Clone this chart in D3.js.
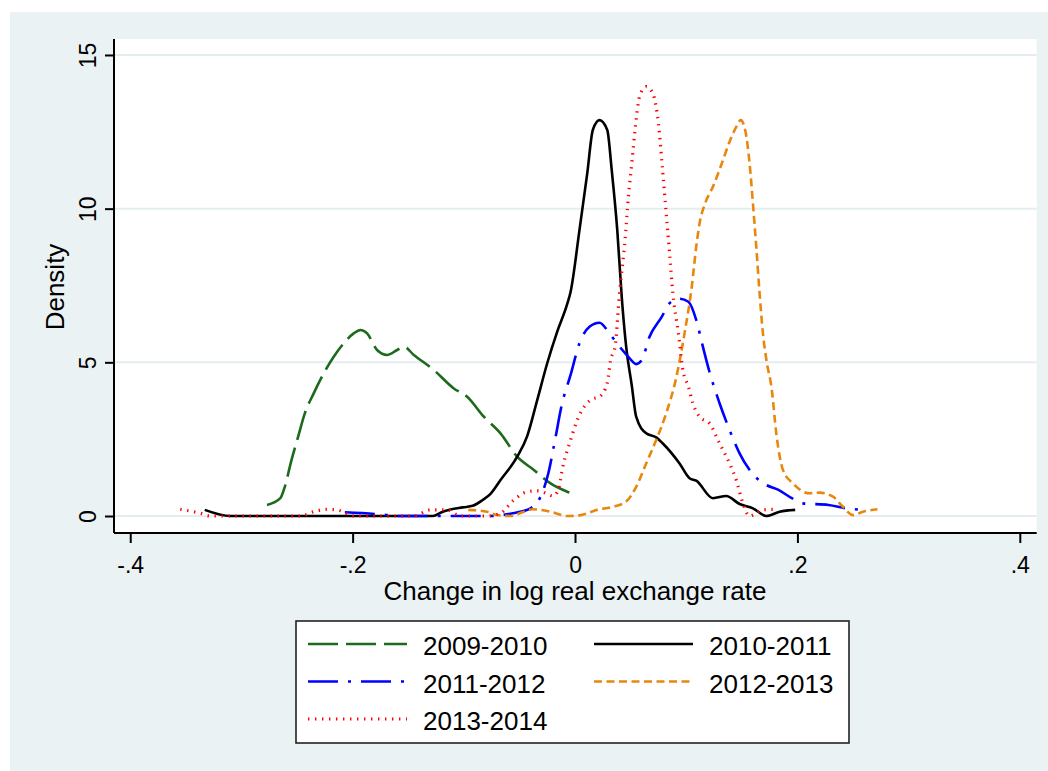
<!DOCTYPE html>
<html>
<head>
<meta charset="utf-8">
<script src="https://cdn.jsdelivr.net/npm/d3@7"></script>
<style>
  body { margin: 0; background: #fff; }
  text { font-family: "Liberation Sans", Arial, sans-serif; }
</style>
</head>
<body>
<script>
// kernel density estimates
var x0910 = [-0.277,-0.265,-0.261,-0.255,-0.249,-0.243,-0.235,-0.226,-0.217,-0.208,-0.199,-0.193,-0.187,-0.178,-0.169,-0.160,-0.154,-0.145,-0.127,-0.109,-0.097,-0.082,-0.067,-0.052,-0.037,-0.022,-0.007,-0.002];
var d0910 = [0.36,0.58,0.95,1.82,2.58,3.34,3.99,4.64,5.18,5.62,5.94,6.05,5.94,5.40,5.24,5.40,5.51,5.24,4.75,4.15,3.88,3.23,2.69,1.93,1.50,1.06,0.79,0.72];

var x1011 = [-0.333,-0.310,-0.128,-0.119,-0.101,-0.092,-0.083,-0.076,-0.067,-0.052,-0.043,-0.034,-0.025,-0.016,-0.007,-0.004,0.004,0.011,0.016,0.022,0.029,0.033,0.038,0.042,0.046,0.051,0.055,0.064,0.073,0.079,0.094,0.103,0.109,0.124,0.136,0.148,0.160,0.172,0.184,0.198];
var d1011 = [0.20,0,0,0.14,0.28,0.33,0.52,0.72,1.17,1.93,2.6,3.77,4.97,6.0,6.9,7.29,9.30,11.15,12.56,12.88,12.56,11.26,9.30,7.13,5.51,4.26,3.23,2.69,2.56,2.36,1.71,1.23,1.15,0.58,0.65,0.39,0.25,0,0.14,0.20];

var x1112 = [-0.207,-0.177,-0.157,-0.078,-0.056,-0.040,-0.031,-0.024,-0.018,-0.012,-0.004,0.004,0.013,0.022,0.031,0.039,0.048,0.055,0.060,0.067,0.078,0.085,0.094,0.102,0.109,0.115,0.121,0.130,0.139,0.148,0.156,0.162,0.172,0.183,0.195,0.205,0.228,0.244,0.258];
var d1112 = [0.12,0.06,0,0,0.09,0.25,0.63,1.39,2.47,3.6,4.59,5.62,6.16,6.29,5.94,5.56,5.18,4.94,5.07,5.83,6.48,6.92,7.07,6.97,6.38,5.51,4.68,3.67,2.80,2.04,1.55,1.28,1.01,0.85,0.58,0.41,0.36,0.25,0.20];

var x1213 = [-0.096,-0.079,-0.070,-0.058,-0.046,-0.038,-0.022,-0.007,0.004,0.020,0.034,0.046,0.055,0.064,0.073,0.082,0.091,0.099,0.105,0.109,0.112,0.117,0.124,0.132,0.139,0.145,0.149,0.153,0.157,0.160,0.163,0.166,0.169,0.172,0.177,0.181,0.187,0.196,0.211,0.220,0.232,0.241,0.250,0.259,0.272];
var d1213 = [0.2,0.14,0.03,0,0.14,0.22,0.14,0,0.02,0.2,0.30,0.47,0.95,1.71,2.47,3.34,4.5,6.05,7.46,8.76,9.52,10.17,10.71,11.47,12.18,12.66,12.88,12.56,11.47,10.17,8.76,7.24,5.94,5.1,4.10,2.69,1.50,1.06,0.74,0.76,0.63,0.30,0.03,0.14,0.22];

var x1314 = [-0.355,-0.337,-0.328,-0.247,-0.235,-0.223,-0.211,-0.199,-0.145,-0.130,-0.115,-0.103,-0.078,-0.067,-0.055,-0.043,-0.034,-0.025,-0.020,-0.015,-0.011,-0.004,0.002,0.011,0.016,0.022,0.029,0.032,0.036,0.040,0.045,0.048,0.051,0.054,0.058,0.064,0.070,0.075,0.079,0.082,0.085,0.088,0.093,0.097,0.102,0.106,0.112,0.121,0.130,0.139,0.145,0.151,0.157,0.169,0.181];
var d1314 = [0.22,0.09,0,0,0.14,0.22,0.17,0,0,0.2,0.2,0,0,0.09,0.52,0.79,0.82,0.72,0.65,0.85,1.60,2.47,3.12,3.68,3.81,3.88,4.33,5.07,5.51,7.24,8.98,10.39,11.47,12.56,13.64,13.97,13.75,12.77,11.15,9.85,8.55,7.24,5.94,4.75,4.21,3.67,3.23,3.01,2.36,1.71,1.17,0.41,0,0.2,0.22];

var seriesNames = ["2009-2010", "2010-2011", "2011-2012", "2012-2013", "2013-2014"];
var xTicks = [-0.4, -0.2, 0, 0.2, 0.4];
var xTickLabels = ["-.4", "-.2", "0", ".2", ".4"];
var yTicks = [0, 5, 10, 15];

var styles = [
  { color: "#1c6b1c", dash: "30,8", width: 2.6 },
  { color: "#000000", dash: null, width: 2.6 },
  { color: "#0000ff", dash: "30,10,3,10", width: 2.6 },
  { color: "#e8870c", dash: "8,4.5", width: 2.6 },
  { color: "#ff0000", dash: "1.4,5.6", width: 3.2 }
];

var series = [
  { name: seriesNames[0], xs: x0910, ds: d0910 },
  { name: seriesNames[1], xs: x1011, ds: d1011 },
  { name: seriesNames[2], xs: x1112, ds: d1112 },
  { name: seriesNames[3], xs: x1213, ds: d1213 },
  { name: seriesNames[4], xs: x1314, ds: d1314 }
];

var width = 1048, height = 771;

var svg = d3.select("body").append("svg")
    .attr("width", width)
    .attr("height", height);

// outer stata-style background
svg.append("rect").attr("x", 10).attr("y", 12)
    .attr("width", width - 10).attr("height", height - 12)
    .attr("fill", "#eaf2f3");

var pLeft = 114, pRight = 1036.7, pTop = 39, pBottom = 533;

svg.append("rect").attr("x", pLeft).attr("y", pTop)
    .attr("width", pRight - pLeft).attr("height", pBottom - pTop)
    .attr("fill", "#fff");

var x = d3.scaleLinear().domain([-0.4146, 0.4152]).range([pLeft, pRight]);
var y = d3.scaleLinear().domain([-0.553, 15.52]).range([pBottom, pTop]);

// gridlines
svg.append("g").selectAll("line")
    .data(yTicks)
    .enter().append("line")
      .attr("x1", pLeft).attr("x2", pRight)
      .attr("y1", function(d) { return y(d); })
      .attr("y2", function(d) { return y(d); })
      .attr("stroke", "#e4eef0")
      .attr("stroke-width", 2);

var line = d3.line()
    .x(function(p) { return x(p[0]); })
    .y(function(p) { return y(p[1]); })
    .curve(d3.curveMonotoneX);

svg.append("g").selectAll("path")
    .data(series)
    .enter().append("path")
      .attr("d", function(s) { return line(s.xs.map(function(v, i) { return [v, s.ds[i]]; })); })
      .attr("fill", "none")
      .attr("stroke", function(s, i) { return styles[i].color; })
      .attr("stroke-width", function(s, i) { return styles[i].width; })
      .attr("stroke-dasharray", function(s, i) { return styles[i].dash; })
      .attr("stroke-linejoin", "round");

// axes
var xAxis = svg.append("g")
    .attr("transform", "translate(0," + pBottom + ")")
    .call(d3.axisBottom(x).tickValues(xTicks).tickSize(10).tickSizeOuter(0)
      .tickFormat(function(d, i) { return xTickLabels[i]; }));
xAxis.select(".domain").attr("stroke-width", 2).attr("d", "M" + pLeft + ",0H" + pRight);
xAxis.selectAll(".tick line").attr("stroke-width", 2);
xAxis.selectAll(".tick text")
    .attr("y", 40).attr("dy", 0)
    .attr("font-size", 23).attr("fill", "#000")
    .style("font-family", "'Liberation Sans', Arial, sans-serif");

var yAxis = svg.append("g")
    .attr("transform", "translate(" + pLeft + ",0)")
    .call(d3.axisLeft(y).tickValues(yTicks).tickSize(9).tickSizeOuter(0));
yAxis.select(".domain").attr("stroke-width", 2).attr("d", "M0," + pTop + "V" + pBottom);
yAxis.selectAll(".tick line").attr("stroke-width", 2);
yAxis.selectAll(".tick text")
    .attr("x", 0).attr("dy", 0)
    .attr("transform", "translate(-18,0) rotate(-90)")
    .attr("text-anchor", "middle")
    .attr("font-size", 23).attr("fill", "#000")
    .style("font-family", "'Liberation Sans', Arial, sans-serif");

svg.append("text")
    .attr("x", 575).attr("y", 600)
    .attr("text-anchor", "middle")
    .attr("font-size", 26)
    .text("Change in log real exchange rate");

svg.append("text")
    .attr("transform", "translate(64,287) rotate(-90)")
    .attr("text-anchor", "middle")
    .attr("font-size", 26)
    .text("Density");

// legend
var legend = svg.append("g");
legend.append("rect")
    .attr("x", 296).attr("y", 621)
    .attr("width", 553).attr("height", 122)
    .attr("fill", "#fff").attr("stroke", "#222").attr("stroke-width", 1.6);

var items = legend.selectAll("g.item")
    .data(series)
    .enter().append("g")
      .attr("class", "item")
      .attr("transform", function(d, i) {
        return "translate(" + (i % 2 ? 594 : 308) + "," + (644 + Math.floor(i / 2) * 37.5) + ")";
      });

items.append("line")
    .attr("x1", 0).attr("x2", 99)
    .attr("stroke", function(d, i) { return styles[i].color; })
    .attr("stroke-width", function(d, i) { return styles[i].width; })
    .attr("stroke-dasharray", function(d, i) { return styles[i].dash; });

items.append("text")
    .attr("x", 115).attr("y", 11)
    .attr("font-size", 26)
    .text(function(d) { return d.name; });
</script>
</body>
</html>
